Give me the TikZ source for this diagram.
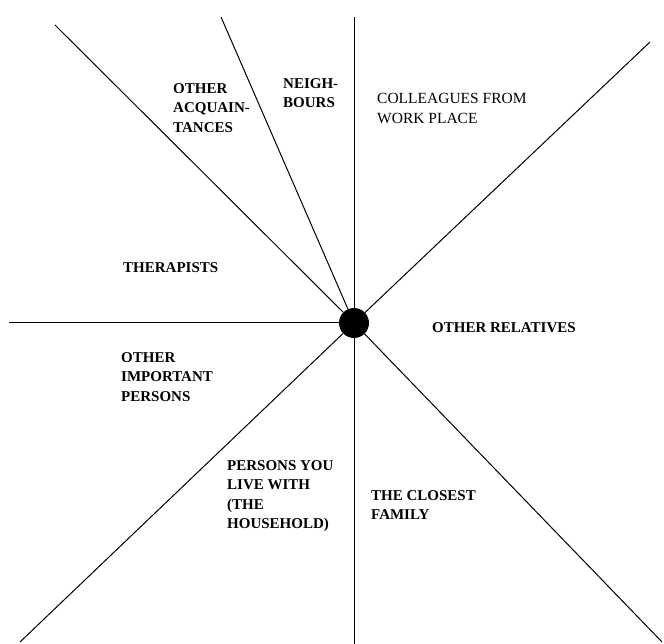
\documentclass[tikz,border=0pt]{standalone}
\usepackage{fontspec}
\setmainfont{Liberation Serif}

\begin{document}
\begin{tikzpicture}[x=1pt,y=-1pt,
  spoke/.style={line width=1pt},
  sector/.style={anchor=north west,inner sep=0pt,align=left,font=\fontsize{15}{19.5}\selectfont\bfseries},
  plain/.style={anchor=north west,inner sep=0pt,align=left,font=\fontsize{15.5}{20}\selectfont}]
  \useasboundingbox (0,0) rectangle (664,644);
  % centre of the network
  \node[circle,fill=black,inner sep=0pt,minimum size=30pt] (hub) at (354,323) {};
  % outer ends of the spokes
  \coordinate (topleft) at (55,25);
  \coordinate (steep) at (221,17);
  \coordinate (top) at (354,17);
  \coordinate (topright) at (650,42);
  \coordinate (left) at (9,323);
  \coordinate (botleft) at (20,642);
  \coordinate (bottom) at (354,644);
  \coordinate (botright) at (662,642);
  \foreach \e in {topleft,steep,top,topright,left,botleft,bottom,botright}
    \draw[spoke] (\e) -- (hub);
  % sector labels
  \node[sector] (neigh) at (283,78) {NEIGH-\\BOURS};
  \node[sector] (acq) at (173,83) {OTHER\\ACQUAIN-\\TANCES};
  \node[plain] (colleagues) at (377,93) {COLLEAGUES FROM\\WORK PLACE};
  \node[sector] (therap) at (123,262) {THERAPISTS};
  \node[sector] (relatives) at (432,322) {OTHER RELATIVES};
  \node[sector] (important) at (121,352) {OTHER\\IMPORTANT\\PERSONS};
  \node[sector] (household) at (227,460) {PERSONS YOU\\LIVE WITH\\(THE\\HOUSEHOLD)};
  \node[sector] (family) at (371,490) {THE CLOSEST\\FAMILY};
\end{tikzpicture}
\end{document}
